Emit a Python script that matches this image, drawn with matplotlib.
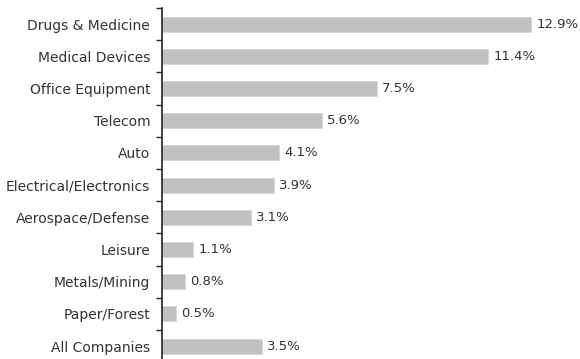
import numpy as np
import matplotlib.pyplot as plt

# Sector values (%)
sectors = ['Drugs & Medicine', 'Medical Devices', 'Office Equipment', 'Telecom',
           'Auto', 'Electrical/Electronics', 'Aerospace/Defense', 'Leisure',
           'Metals/Mining', 'Paper/Forest', 'All Companies']
values = [12.9, 11.4, 7.5, 5.6, 4.1, 3.9, 3.1, 1.1, 0.8, 0.5, 3.5]

TEXT = '#333333'
BAR = '#c0c1c2'

fig = plt.figure(figsize=(5.8, 3.59), dpi=100)
ax = fig.add_axes([162/580, 0, (574-162)/580, 1 - 8/359])

y = np.arange(len(sectors))
ax.barh(y, values, height=0.47, color=BAR, edgecolor='#d6d7d8', linewidth=0.6)

for yi, v in zip(y, values):
    ax.text(v + 0.18, yi, f'{v}%', va='center', ha='left', fontsize=9.5, color=TEXT)

ax.set_xlim(0, 14.4)
ax.set_ylim(10.4, -0.5)

ax.set_yticks(y)
ax.set_yticklabels(sectors, fontsize=10, color=TEXT)
ax.tick_params(axis='y', which='major', length=0, pad=8.5)
ax.set_yticks(np.arange(-0.5, 10, 1), minor=True)
ax.tick_params(axis='y', which='minor', length=4, width=1, direction='out', color='#222222')
ax.set_xticks([])

for side in ['top', 'right', 'bottom']:
    ax.spines[side].set_visible(False)
ax.spines['left'].set_color('#222222')
ax.spines['left'].set_linewidth(1.2)

fig.savefig('out.png', dpi=100)
